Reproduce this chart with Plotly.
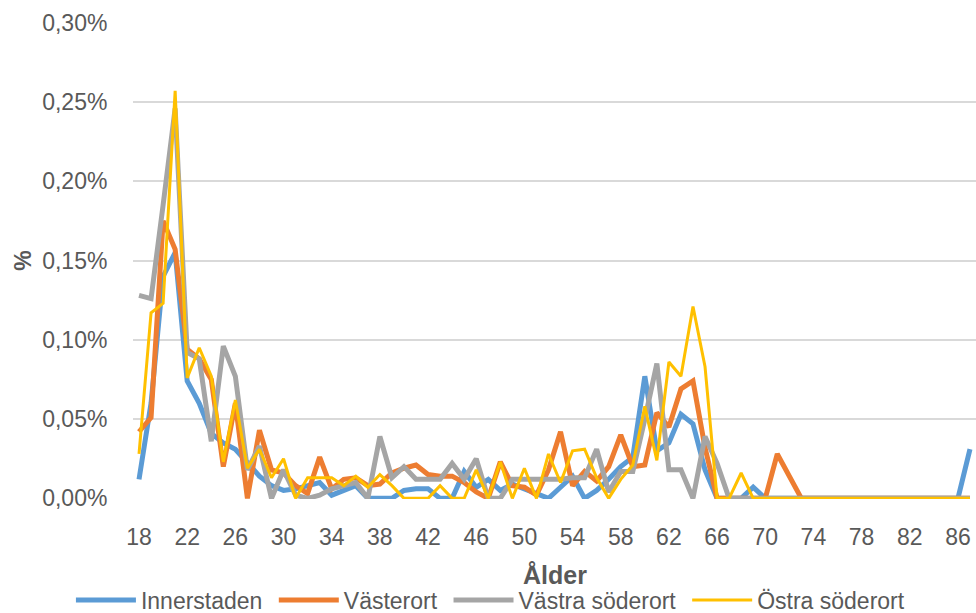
import plotly.graph_objects as go

ages = list(range(18, 88))

innerstaden = [0.012, 0.060, 0.140, 0.155, 0.074, 0.060, 0.041, 0.035, 0.031, 0.023,
               0.014, 0.008, 0.005, 0.006, 0.008, 0.010, 0.002, 0.005, 0.008, 0.000,
               0.000, 0.000, 0.005, 0.006, 0.006, 0.000, 0.000, 0.017, 0.007, 0.012,
               0.005, 0.009, 0.006, 0.003, 0.000, 0.007, 0.014, 0.000, 0.005, 0.012,
               0.020, 0.026, 0.077, 0.030, 0.035, 0.053, 0.047, 0.018, 0.000, 0.000,
               0.000, 0.007, 0.000, 0.000, 0.000, 0.000, 0.000, 0.000, 0.000, 0.000,
               0.000, 0.000, 0.000, 0.000, 0.000, 0.000, 0.000, 0.000, 0.000, 0.031]

vasterort = [0.042, 0.051, 0.175, 0.157, 0.094, 0.088, 0.075, 0.020, 0.060, 0.000,
             0.043, 0.018, 0.016, 0.008, 0.003, 0.026, 0.006, 0.012, 0.013, 0.008,
             0.009, 0.016, 0.019, 0.021, 0.015, 0.014, 0.014, 0.010, 0.004, 0.000,
             0.023, 0.008, 0.007, 0.002, 0.018, 0.042, 0.008, 0.017, 0.011, 0.020,
             0.040, 0.020, 0.021, 0.054, 0.045, 0.069, 0.074, 0.032, 0.000, 0.000,
             0.000, 0.000, 0.000, 0.028, 0.014, 0.000, 0.000, 0.000, 0.000, 0.000,
             0.000, 0.000, 0.000, 0.000, 0.000, 0.000, 0.000, 0.000, 0.000, 0.000]

vastra_soderort = [0.128, 0.126, 0.185, 0.246, 0.092, 0.088, 0.036, 0.096, 0.077, 0.018,
                   0.033, 0.000, 0.018, 0.002, 0.000, 0.002, 0.006, 0.008, 0.010, 0.000,
                   0.039, 0.013, 0.020, 0.012, 0.012, 0.012, 0.022, 0.012, 0.025, 0.000,
                   0.000, 0.012, 0.012, 0.012, 0.012, 0.012, 0.013, 0.013, 0.031, 0.004,
                   0.017, 0.017, 0.050, 0.085, 0.018, 0.018, 0.000, 0.039, 0.022, 0.000,
                   0.000, 0.000, 0.000, 0.000, 0.000, 0.000, 0.000, 0.000, 0.000, 0.000,
                   0.000, 0.000, 0.000, 0.000, 0.000, 0.000, 0.000, 0.000, 0.000, 0.000]

ostra_soderort = [0.028, 0.117, 0.123, 0.257, 0.076, 0.095, 0.077, 0.023, 0.062, 0.019,
                  0.031, 0.013, 0.025, 0.000, 0.013, 0.013, 0.013, 0.008, 0.014, 0.007,
                  0.015, 0.008, 0.000, 0.000, 0.000, 0.008, 0.000, 0.000, 0.018, 0.000,
                  0.023, 0.000, 0.019, 0.000, 0.028, 0.010, 0.030, 0.031, 0.013, 0.000,
                  0.012, 0.021, 0.058, 0.024, 0.086, 0.077, 0.121, 0.083, 0.000, 0.000,
                  0.016, 0.000, 0.000, 0.000, 0.000, 0.000, 0.000, 0.000, 0.000, 0.000,
                  0.000, 0.000, 0.000, 0.000, 0.000, 0.000, 0.000, 0.000, 0.000, 0.000]

series_names = ["Innerstaden", "Västerort", "Västra söderort", "Östra söderort"]
series_values = [innerstaden, vasterort, vastra_soderort, ostra_soderort]
series_colors = ["#5B9BD5", "#ED7D31", "#A5A5A5", "#FFC000"]
series_widths = [5, 5, 5, 3]

x_tick_vals = ages[::4]
y_tick_vals = [0, 0.05, 0.10, 0.15, 0.20, 0.25, 0.30]
y_tick_text = ["0,00%", "0,05%", "0,10%", "0,15%", "0,20%", "0,25%", "0,30%"]

FONT = "Liberation Sans, Arial"
TXT = "#595959"

fig = go.Figure()
for i, (name, vals, color, w) in enumerate(zip(series_names, series_values, series_colors, series_widths)):
    label = name + ("\u00a0" if i < len(series_names) - 1 else "")
    fig.add_trace(go.Scatter(x=ages, y=vals, name=label, mode="lines",
                             line=dict(color=color, width=w)))

fig.update_layout(
    width=976, height=613,
    margin=dict(l=133, r=0, t=22, b=114),
    paper_bgcolor="white", plot_bgcolor="white",
    separators=",.",
    font=dict(family=FONT, size=23, color=TXT),
    showlegend=True,
    legend=dict(orientation="h", x=0.424, xanchor="center",
                yref="container", y=1 - 600 / 613, yanchor="middle",
                font=dict(size=23, color=TXT), itemwidth=60, tracegroupgap=0,
                bgcolor="rgba(0,0,0,0)"),
    xaxis=dict(range=[17.5, 87.5], tickvals=x_tick_vals, showgrid=False,
               zeroline=False, showline=False, ticks="outside", ticklen=17,
               tickcolor="rgba(0,0,0,0)", automargin=False),
    yaxis=dict(range=[-0.0004, 0.3004], tickvals=y_tick_vals, ticktext=y_tick_text,
               showgrid=True, gridcolor="#D9D9D9", gridwidth=1.5, zeroline=False,
               showline=False, ticks="outside", ticklen=20, tickcolor="rgba(0,0,0,0)",
               automargin=False,
               title=dict(text="<b>%</b>", font=dict(size=23, color=TXT), standoff=4)),
    annotations=[dict(text="<b>Ålder</b>", xref="paper", yref="paper", x=0.5, y=-0.159,
                      xanchor="center", yanchor="middle", showarrow=False,
                      font=dict(size=25, color=TXT))],
)

fig.write_html("out.html", config={"displayModeBar": False},
               post_script="document.body.style.margin='0';document.body.style.overflow='hidden';")
